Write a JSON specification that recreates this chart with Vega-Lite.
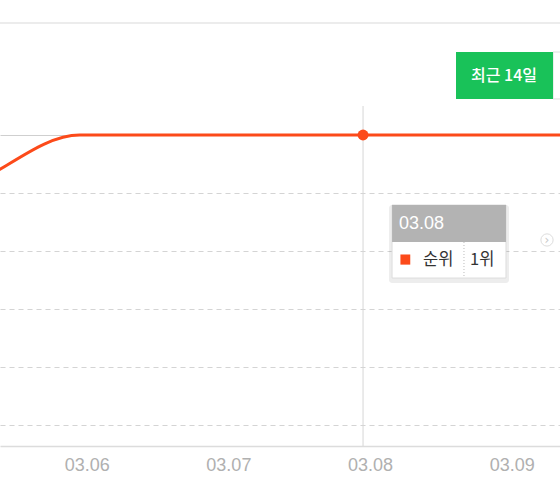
{
  "$schema": "https://vega.github.io/schema/vega-lite/v6.json",
  "width": 560,
  "height": 446,
  "autosize": {"type": "none"},
  "padding": {"top": 0, "left": 0, "right": 0, "bottom": 35},
  "background": "white",
  "config": {"view": {"stroke": null}},
  "data": {
    "values": [
      {"date": "2024-03-04T00:00", "rank": 2},
      {"date": "2024-03-05T00:00", "rank": 2},
      {"date": "2024-03-06T00:00", "rank": 1},
      {"date": "2024-03-07T00:00", "rank": 1},
      {"date": "2024-03-08T00:00", "rank": 1},
      {"date": "2024-03-09T00:00", "rank": 1},
      {"date": "2024-03-10T00:00", "rank": 1}
    ]
  },
  "layer": [
    {
      "data": {"values": [{}]},
      "mark": {"type": "rule", "color": "#e6e6e6", "strokeWidth": 1.5},
      "encoding": {"y": {"datum": -0.931, "type": "quantitative"}}
    },
    {
      "data": {"values": [{}]},
      "mark": {"type": "rule", "color": "#d6d6d6", "strokeWidth": 1},
      "encoding": {
        "x": {"datum": {"year": 2024, "month": 3, "date": 8}, "type": "temporal"},
        "y": {"datum": 0.5, "type": "quantitative"},
        "y2": {"datum": 6.3621}
      }
    },
    {
      "mark": {"type": "line", "interpolate": "monotone", "color": "#fc4a1a", "strokeWidth": 3, "clip": true},
      "encoding": {
        "x": {
          "field": "date",
          "type": "temporal",
          "scale": {
            "domain": [
              {"year": 2024, "month": 3, "date": 5, "hours": 10, "minutes": 30},
              {"year": 2024, "month": 3, "date": 9, "hours": 9, "minutes": 22}
            ]
          },
          "axis": {
            "values": [
              {"year": 2024, "month": 3, "date": 6},
              {"year": 2024, "month": 3, "date": 7},
              {"year": 2024, "month": 3, "date": 8},
              {"year": 2024, "month": 3, "date": 9}
            ],
            "format": "%m.%d",
            "title": null,
            "grid": false,
            "ticks": false,
            "labelOffset": 7,
            "labelFlush": false,
            "labelPadding": 10,
            "labelColor": "#b0b0b0",
            "labelFontSize": 18,
            "labelFont": "Liberation Sans",
            "domainColor": "#dcdcdc",
            "domainWidth": 1.5
          }
        },
        "y": {
          "field": "rank",
          "type": "quantitative",
          "scale": {"domain": [-1.3276, 6.3621], "reverse": true, "nice": false, "zero": false},
          "axis": {
            "values": [1, 2, 3, 4, 5, 6],
            "labels": false,
            "ticks": false,
            "domain": false,
            "title": null,
            "grid": true,
            "gridColor": {"condition": {"test": "datum.value === 1", "value": "#cfcfcf"}, "value": "#d4d4d4"},
            "gridDash": {"condition": {"test": "datum.value === 1", "value": []}, "value": [5, 4]},
            "gridWidth": 1.2
          }
        }
      }
    },
    {
      "transform": [{"filter": {"field": "date", "equal": {"year": 2024, "month": 3, "date": 8}}}],
      "mark": {"type": "circle", "color": "#fc4a1a", "size": 120, "opacity": 1},
      "encoding": {
        "x": {"field": "date", "type": "temporal"},
        "y": {"field": "rank", "type": "quantitative"}
      }
    },
    {
      "data": {"values": [{}]},
      "mark": {"type": "rect", "fill": "#ffffff", "stroke": "#dedede", "strokeWidth": 1, "clip": true},
      "encoding": {
        "x": {"datum": {"year": 2024, "month": 3, "date": 9, "hours": 8, "minutes": 11}, "type": "temporal"},
        "x2": {"datum": {"year": 2024, "month": 3, "date": 9, "hours": 20}},
        "y": {"datum": -0.431, "type": "quantitative"},
        "y2": {"datum": 0.379}
      }
    },
    {
      "data": {"values": [{}]},
      "mark": {"type": "rect", "fill": "#19c259"},
      "encoding": {
        "x": {"datum": {"year": 2024, "month": 3, "date": 8, "hours": 15, "minutes": 45}, "type": "temporal"},
        "x2": {"datum": {"year": 2024, "month": 3, "date": 9, "hours": 8, "minutes": 11}},
        "y": {"datum": -0.431, "type": "quantitative"},
        "y2": {"datum": 0.379}
      }
    },
    {
      "data": {"values": [{}]},
      "mark": {"type": "text", "text": "최근 14일", "color": "#ffffff", "fontSize": 16, "fontWeight": 500, "font": "Noto Sans CJK KR", "align": "center", "baseline": "middle"},
      "encoding": {
        "x": {"datum": {"year": 2024, "month": 3, "date": 8, "hours": 23, "minutes": 53}, "type": "temporal"},
        "y": {"datum": -0.017, "type": "quantitative"}
      }
    },
    {
      "data": {"values": [{}]},
      "mark": {"type": "rect", "fill": "#000000", "opacity": 0.07, "cornerRadius": 3},
      "encoding": {
        "x": {"datum": {"year": 2024, "month": 3, "date": 8, "hours": 4, "minutes": 24}, "type": "temporal"},
        "x2": {"datum": {"year": 2024, "month": 3, "date": 9, "hours": 0, "minutes": 44}},
        "y": {"datum": 2.207, "type": "quantitative"},
        "y2": {"datum": 3.552}
      }
    },
    {
      "data": {"values": [{}]},
      "mark": {"type": "rect", "fill": "#ffffff", "stroke": "#dddddd", "strokeWidth": 1},
      "encoding": {
        "x": {"datum": {"year": 2024, "month": 3, "date": 8, "hours": 4, "minutes": 55}, "type": "temporal"},
        "x2": {"datum": {"year": 2024, "month": 3, "date": 9, "hours": 0, "minutes": 13}},
        "y": {"datum": 2.207, "type": "quantitative"},
        "y2": {"datum": 3.466}
      }
    },
    {
      "data": {"values": [{}]},
      "mark": {"type": "rect", "fill": "#b3b3b3"},
      "encoding": {
        "x": {"datum": {"year": 2024, "month": 3, "date": 8, "hours": 4, "minutes": 55}, "type": "temporal"},
        "x2": {"datum": {"year": 2024, "month": 3, "date": 9, "hours": 0, "minutes": 13}},
        "y": {"datum": 2.207, "type": "quantitative"},
        "y2": {"datum": 2.845}
      }
    },
    {
      "data": {"values": [{}]},
      "mark": {"type": "text", "text": "03.08", "color": "#ffffff", "fontSize": 18, "font": "Liberation Sans", "align": "left", "baseline": "middle"},
      "encoding": {
        "x": {"datum": {"year": 2024, "month": 3, "date": 8, "hours": 6, "minutes": 6}, "type": "temporal"},
        "y": {"datum": 2.534, "type": "quantitative"}
      }
    },
    {
      "data": {"values": [{}]},
      "mark": {"type": "rect", "fill": "#fc4a1a"},
      "encoding": {
        "x": {"datum": {"year": 2024, "month": 3, "date": 8, "hours": 6, "minutes": 20}, "type": "temporal"},
        "x2": {"datum": {"year": 2024, "month": 3, "date": 8, "hours": 8, "minutes": 0}},
        "y": {"datum": 3.06, "type": "quantitative"},
        "y2": {"datum": 3.235}
      }
    },
    {
      "data": {"values": [{}]},
      "mark": {"type": "text", "text": "순위", "color": "#333333", "fontSize": 16.5, "font": "Noto Sans CJK KR", "align": "left", "baseline": "middle"},
      "encoding": {
        "x": {"datum": {"year": 2024, "month": 3, "date": 8, "hours": 10, "minutes": 10}, "type": "temporal"},
        "y": {"datum": 3.155, "type": "quantitative"}
      }
    },
    {
      "data": {"values": [{}]},
      "mark": {"type": "rule", "color": "#bbbbbb", "strokeWidth": 1, "strokeDash": [1, 2]},
      "encoding": {
        "x": {"datum": {"year": 2024, "month": 3, "date": 8, "hours": 17, "minutes": 6}, "type": "temporal"},
        "y": {"datum": 2.845, "type": "quantitative"},
        "y2": {"datum": 3.466}
      }
    },
    {
      "data": {"values": [{}]},
      "mark": {"type": "text", "text": "1위", "color": "#333333", "fontSize": 16.5, "font": "Noto Sans CJK KR", "align": "left", "baseline": "middle"},
      "encoding": {
        "x": {"datum": {"year": 2024, "month": 3, "date": 8, "hours": 18, "minutes": 7}, "type": "temporal"},
        "y": {"datum": 3.155, "type": "quantitative"}
      }
    },
    {
      "data": {"values": [{}]},
      "mark": {"type": "point", "shape": "circle", "filled": true, "fill": "#ffffff", "stroke": "#dddddd", "strokeWidth": 1, "size": 150, "opacity": 1},
      "encoding": {
        "x": {"datum": {"year": 2024, "month": 3, "date": 9, "hours": 7, "minutes": 10}, "type": "temporal"},
        "y": {"datum": 2.81, "type": "quantitative"}
      }
    },
    {
      "data": {"values": [{}]},
      "mark": {"type": "text", "text": "›", "color": "#c8c8c8", "fontSize": 12, "font": "DejaVu Sans", "align": "center", "baseline": "middle"},
      "encoding": {
        "x": {"datum": {"year": 2024, "month": 3, "date": 9, "hours": 7, "minutes": 10}, "type": "temporal"},
        "y": {"datum": 2.81, "type": "quantitative"}
      }
    }
  ]
}
